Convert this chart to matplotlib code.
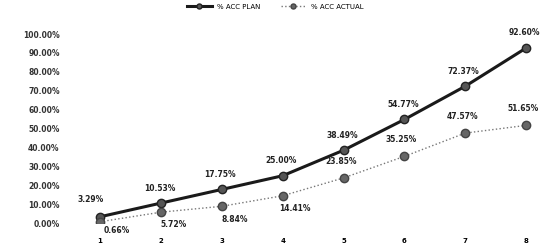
import matplotlib
matplotlib.use('Agg')
import matplotlib.pyplot as plt

# chart data
categories = [1, 2, 3, 4, 5, 6, 7, 8]
acc_plan = [3.29, 10.53, 17.75, 25.00, 38.49, 54.77, 72.37, 92.60]
acc_actual = [0.66, 5.72, 8.84, 14.41, 23.85, 35.25, 47.57, 51.65]
plan_labels = ['3.29%', '10.53%', '17.75%', '25.00%', '38.49%', '54.77%', '72.37%', '92.60%']
actual_labels = ['0.66%', '5.72%', '8.84%', '14.41%', '23.85%', '35.25%', '47.57%', '51.65%']
y_ticks = [0, 10, 20, 30, 40, 50, 60, 70, 80, 90, 100]

fig = plt.figure(figsize=(5.51, 2.47), dpi=100)
ax = fig.add_axes([68 / 551, 24 / 247, 477 / 551, 189 / 247])

ax.plot(categories, acc_plan, color='#1a1a1a', lw=2.2, marker='o', ms=6,
        mfc='#555555', mec='#222222', label='% ACC PLAN')
ax.plot(categories, acc_actual, color='#777777', lw=1.0, ls=':', marker='o', ms=6,
        mfc='#666666', mec='#444444', label='% ACC ACTUAL')

# data labels
for i, (x, y) in enumerate(zip(categories, acc_plan)):
    if i == 0:
        off = (-7, 11)
    else:
        off = (-1, 9)
    ax.annotate(plan_labels[i], (x, y), xytext=off, textcoords='offset points',
                ha='center', fontsize=5.5, fontweight='bold', color='#222222')

for i, (x, y) in enumerate(zip(categories, acc_actual)):
    if i == 0:
        off = (12, -8)
    elif i < 4:
        off = (9, -11)
    else:
        off = (-2, 10)
    ax.annotate(actual_labels[i], (x, y), xytext=off, textcoords='offset points',
                ha='center', fontsize=5.5, fontweight='bold', color='#222222')

ax.set_xlim(0.474, 8.31)
ax.set_ylim(0, 100)
ax.set_xticks(categories)
ax.set_xticklabels([str(c) for c in categories], fontsize=5, fontweight='bold')
ax.set_yticks(y_ticks)
ax.set_yticklabels(['%.2f%%' % v for v in y_ticks], fontsize=5.5, fontweight='bold',
                   color='#333333')
ax.tick_params(length=0, pad=6)
ax.tick_params(axis='x', pad=11)
for s in ax.spines.values():
    s.set_visible(False)

fig.legend(loc='upper center', bbox_to_anchor=(0.5, 1.01), ncol=2, frameon=False,
           fontsize=5, handlelength=3.5, columnspacing=3, markerscale=0.6)

fig.savefig('out.png', dpi=100)
